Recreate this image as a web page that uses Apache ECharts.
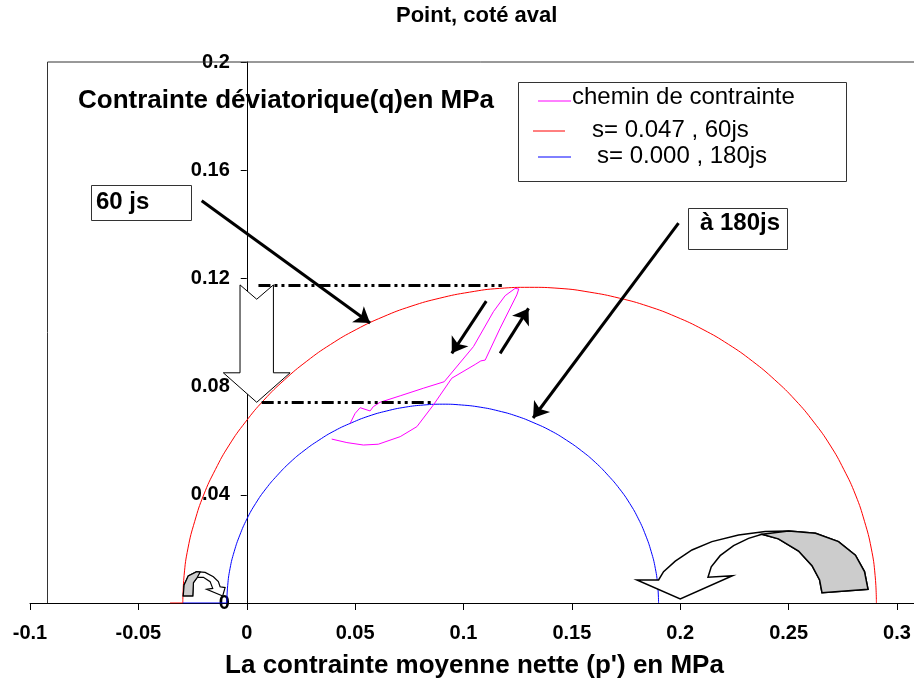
<!DOCTYPE html>
<html>
<head>
<meta charset="utf-8">
<title>Point, coté aval</title>
<script src="https://cdn.jsdelivr.net/npm/echarts@6/dist/echarts.min.js"></script>
<style>
  html, body { margin: 0; padding: 0; background: #fff; }
  #chart { width: 914px; height: 683px; }
</style>
</head>
<body>
<div id="chart"></div>
<script>
// chemin de contrainte (p', q) en MPa
const stressPath = [
  [0.0392, 0.0606], [0.0462, 0.0593], [0.0538, 0.0584], [0.0607, 0.0587],
  [0.0708, 0.0615], [0.0785, 0.0652], [0.0861, 0.0732], [0.0946, 0.0831],
  [0.1054, 0.0882], [0.1080, 0.0895], [0.1100, 0.0898], [0.1169, 0.1016],
  [0.1246, 0.1139], [0.1255, 0.1161], [0.1246, 0.1166], [0.1238, 0.1163],
  [0.1192, 0.1136], [0.1138, 0.1077], [0.1046, 0.0948], [0.0911, 0.0818],
  [0.0815, 0.0794], [0.0708, 0.0766], [0.0615, 0.0742], [0.0584, 0.0726],
  [0.0569, 0.0710], [0.0523, 0.0722], [0.0500, 0.0701], [0.0477, 0.0664]
];

// s= 0.047 , 60js
const redCircle = [
  [0.2905, 0], [0.2899, 0.0102], [0.2881, 0.0203], [0.2850, 0.0302],
  [0.2809, 0.0399], [0.2755, 0.0493], [0.2691, 0.0584], [0.2616, 0.0669],
  [0.2531, 0.0750], [0.2436, 0.0825], [0.2333, 0.0894], [0.2223, 0.0956],
  [0.2105, 0.1011], [0.1981, 0.1058], [0.1852, 0.1097], [0.1719, 0.1127],
  [0.1583, 0.1149], [0.1445, 0.1163], [0.1305, 0.1167], [0.1165, 0.1163],
  [0.1027, 0.1149], [0.0891, 0.1127], [0.0758, 0.1097], [0.0629, 0.1058],
  [0.0505, 0.1011], [0.0387, 0.0956], [0.0277, 0.0894], [0.0174, 0.0825],
  [0.0079, 0.0750], [-0.0006, 0.0669], [-0.0081, 0.0584], [-0.0145, 0.0493],
  [-0.0199, 0.0399], [-0.0240, 0.0302], [-0.0271, 0.0203], [-0.0289, 0.0102],
  [-0.0295, 0]
];
const redTail = [[-0.0295, 0], [-0.0354, 0]];

// s= 0.000 , 180js
const blueCircle = [
  [0.1900, 0], [0.1896, 0.0064], [0.1885, 0.0128], [0.1866, 0.0190],
  [0.1840, 0.0251], [0.1807, 0.0311], [0.1767, 0.0368], [0.1720, 0.0422],
  [0.1667, 0.0472], [0.1608, 0.0520], [0.1544, 0.0563], [0.1475, 0.0602],
  [0.1402, 0.0637], [0.1325, 0.0666], [0.1245, 0.0691], [0.1162, 0.0710],
  [0.1077, 0.0724], [0.0991, 0.0732], [0.0904, 0.0735], [0.0817, 0.0732],
  [0.0731, 0.0724], [0.0646, 0.0710], [0.0563, 0.0691], [0.0483, 0.0666],
  [0.0406, 0.0637], [0.0333, 0.0602], [0.0264, 0.0563], [0.0200, 0.0520],
  [0.0141, 0.0472], [0.0088, 0.0422], [0.0041, 0.0368], [0.0001, 0.0311],
  [-0.0032, 0.0251], [-0.0058, 0.0190], [-0.0077, 0.0128], [-0.0088, 0.0064],
  [-0.0092, 0]
];
const blueTail = [[-0.0092, 0], [-0.0295, 0]];

// annotations, en coordonnées (p', q)
const levelLines = [
  [[0.0054, 0.1176], [0.1177, 0.1176]],
  [[0.0069, 0.0742], [0.0862, 0.0742]]
];
const arrows = [
  [[-0.0208, 0.1487], [0.0569, 0.1035]],
  [[0.1992, 0.1404], [0.1321, 0.0684]],
  [[0.1105, 0.1116], [0.0946, 0.0923]],
  [[0.1169, 0.0923], [0.1300, 0.1089]]
];
const downArrow = [
  [-0.0031, 0.1176], [0.0046, 0.1123], [0.0123, 0.1176], [0.0123, 0.0851],
  [0.0200, 0.0851], [0.0046, 0.0742], [-0.0108, 0.0851], [-0.0031, 0.0851]
];
const bigTurn = [
  [0.2866, 0.0051], [0.2850, 0.0116], [0.2808, 0.0177], [0.2730, 0.0227],
  [0.2624, 0.0258], [0.2500, 0.0266], [0.2392, 0.0264], [0.2269, 0.0251],
  [0.2146, 0.0227], [0.2054, 0.0196], [0.1977, 0.0155], [0.1923, 0.0116],
  [0.1900, 0.0085], [0.1800, 0.0085], [0.2000, 0.0015], [0.2241, 0.0101],
  [0.2128, 0.0095], [0.2143, 0.0134], [0.2184, 0.0175], [0.2246, 0.0212],
  [0.2315, 0.0239], [0.2377, 0.0254], [0.2453, 0.0237], [0.2546, 0.0192],
  [0.2608, 0.0138], [0.2643, 0.0085], [0.2654, 0.0038]
];
const bigTurnBack = [
  [0.2377, 0.0254], [0.2500, 0.0266], [0.2624, 0.0258], [0.2730, 0.0227],
  [0.2808, 0.0177], [0.2850, 0.0116], [0.2866, 0.0051], [0.2654, 0.0038],
  [0.2643, 0.0085], [0.2608, 0.0138], [0.2546, 0.0192], [0.2453, 0.0237]
];
const smallTurn = [
  [-0.0293, 0.0026], [-0.0289, 0.0067], [-0.0270, 0.0100], [-0.0231, 0.0116],
  [-0.0192, 0.0113], [-0.0154, 0.0097], [-0.0131, 0.0079], [-0.0123, 0.0060],
  [-0.0100, 0.0057], [-0.0111, 0.0026], [-0.0185, 0.0051], [-0.0157, 0.0054],
  [-0.0169, 0.0079], [-0.0200, 0.0095], [-0.0228, 0.0095], [-0.0246, 0.0075],
  [-0.0249, 0.0026]
];
const smallTurnBack = [
  [-0.0293, 0.0026], [-0.0289, 0.0067], [-0.0270, 0.0100], [-0.0231, 0.0116],
  [-0.0215, 0.0114], [-0.0228, 0.0095], [-0.0246, 0.0075], [-0.0249, 0.0026]
];

const FONT = '"Liberation Sans", Arial, sans-serif';

const chart = echarts.init(document.getElementById('chart'));

const GRID_LEFT = 30;
const GRID_RIGHT = 17;
const PLOT_W = 914 - GRID_LEFT - GRID_RIGHT;
// the q axis sits at p' = 0, i.e. a quarter of the way along (-0.1 .. 0.3)
const Y_AXIS_SHIFT = PLOT_W * (0 - (-0.1)) / (0.3 - (-0.1));

const option = {
  animation: false,
  backgroundColor: '#fff',
  title: {
    text: 'Point, coté aval',
    left: 396,
    top: 5,
    padding: 0,
    textStyle: { fontFamily: FONT, fontSize: 22, fontWeight: 'bold', color: '#000' }
  },
  grid: { left: GRID_LEFT, right: GRID_RIGHT, top: 62, bottom: 80, outerBoundsMode: 'none' },
  xAxis: {
    type: 'value',
    min: -0.1,
    max: 0.3,
    interval: 0.05,
    name: "La contrainte moyenne nette (p') en MPa",
    nameLocation: 'middle',
    nameGap: 50,
    nameTextStyle: { fontFamily: FONT, fontSize: 26, fontWeight: 'bold', color: '#000', padding: [0, 0, 0, 22] },
    axisLine: { onZero: false, lineStyle: { color: '#000', width: 1 } },
    axisTick: { length: 7, lineStyle: { color: '#000' } },
    axisLabel: { margin: 20, fontFamily: FONT, fontSize: 20, fontWeight: 'bold', color: '#000' },
    splitLine: { show: false }
  },
  yAxis: {
    type: 'value',
    min: 0,
    max: 0.2,
    interval: 0.04,
    position: 'left',
    offset: -Y_AXIS_SHIFT,
    axisLine: { show: true, onZero: false, lineStyle: { color: '#000', width: 1 } },
    axisTick: { show: true, length: 6, lineStyle: { color: '#000' } },
    axisLabel: { margin: 17, fontFamily: FONT, fontSize: 20, fontWeight: 'bold', color: '#000' },
    splitLine: { show: false }
  },
  series: [
    {
      name: 's= 0.047 , 60js', type: 'line', data: redCircle, smooth: true,
      showSymbol: false, silent: true, lineStyle: { color: '#ff0000', width: 1 }
    },
    {
      name: 'red tail', type: 'line', data: redTail, showSymbol: false, silent: true,
      lineStyle: { color: '#ff0000', width: 1 }
    },
    {
      name: 's= 0.000 , 180js', type: 'line', data: blueCircle, smooth: true,
      showSymbol: false, silent: true, lineStyle: { color: '#0000ff', width: 1 }
    },
    {
      name: 'blue tail', type: 'line', data: blueTail, showSymbol: false, silent: true,
      lineStyle: { color: '#0000ff', width: 1 }
    },
    {
      name: 'chemin de contrainte', type: 'line', data: stressPath,
      showSymbol: false, silent: true, lineStyle: { color: '#ff00ff', width: 1 }
    },
    {
      name: 'niveaux', type: 'line', data: [], silent: true,
      markLine: {
        silent: true,
        symbol: ['none', 'none'],
        label: { show: false },
        lineStyle: { color: '#000', width: 3, type: [12, 4, 3, 4, 3, 4] },
        data: levelLines.map(l => [{ coord: l[0] }, { coord: l[1] }])
      }
    },
    {
      name: 'fleches', type: 'line', data: [], silent: true,
      markLine: {
        silent: true,
        symbol: ['none', 'arrow'],
        symbolSize: 15,
        label: { show: false },
        lineStyle: { color: '#000', width: 3, type: 'solid' },
        itemStyle: { color: '#000' },
        data: arrows.map(a => [{ coord: a[0] }, { coord: a[1] }])
      }
    }
  ]
};

chart.setOption(option);

function toPx(points) {
  return points.map(p => chart.convertToPixel({ gridIndex: 0 }, p));
}

const boxStyle = { fill: '#fff', stroke: '#333', lineWidth: 1 };

chart.setOption({
  graphic: [
    // cadre
    { type: 'line', z: 50, shape: { x1: 47.5, y1: 62, x2: 914, y2: 62 }, style: { stroke: '#333', lineWidth: 1 } },
    { type: 'line', z: 50, shape: { x1: 47.5, y1: 62, x2: 47.5, y2: 603 }, style: { stroke: '#333', lineWidth: 1 } },
    { type: 'line', z: 50, shape: { x1: 896, y1: 603.5, x2: 914, y2: 603.5 }, style: { stroke: '#000', lineWidth: 1 } },

    // nom de l'axe vertical
    {
      type: 'text', z: 60, left: 78, top: 88,
      style: { text: 'Contrainte déviatorique(q)en MPa', font: 'bold 26px ' + FONT, fill: '#000' }
    },

    // légende
    { type: 'rect', z: 60, shape: { x: 518.5, y: 82.5, width: 328, height: 99 }, style: boxStyle },
    { type: 'line', z: 61, shape: { x1: 538, y1: 101, x2: 571, y2: 101 }, style: { stroke: '#ff00ff', lineWidth: 1 } },
    { type: 'line', z: 61, shape: { x1: 533, y1: 131, x2: 565, y2: 131 }, style: { stroke: '#ff0000', lineWidth: 1 } },
    { type: 'line', z: 61, shape: { x1: 538, y1: 157, x2: 571, y2: 157 }, style: { stroke: '#0000ff', lineWidth: 1 } },
    { type: 'text', z: 61, left: 572, top: 85, style: { text: 'chemin de contrainte', font: '24px ' + FONT, fill: '#000' } },
    { type: 'text', z: 61, left: 592, top: 118, style: { text: 's= 0.047 , 60js', font: '24px ' + FONT, fill: '#000' } },
    { type: 'text', z: 61, left: 597, top: 144, style: { text: 's= 0.000 , 180js', font: '24px ' + FONT, fill: '#000' } },

    // étiquettes encadrées
    { type: 'rect', z: 60, shape: { x: 91.5, y: 185.5, width: 100, height: 35 }, style: boxStyle },
    { type: 'text', z: 61, left: 96, top: 190, style: { text: '60 js', font: 'bold 24px ' + FONT, fill: '#000' } },
    { type: 'rect', z: 60, shape: { x: 688.5, y: 208.5, width: 99, height: 41 }, style: boxStyle },
    { type: 'text', z: 61, left: 700, top: 211, style: { text: 'à 180js', font: 'bold 24px ' + FONT, fill: '#000' } },

    // flèche creuse et flèches courbes
    { type: 'polygon', z: 70, shape: { points: toPx(downArrow) }, style: { fill: '#fff', stroke: '#000', lineWidth: 1 } },
    { type: 'polygon', z: 70, shape: { points: toPx(bigTurn) }, style: { fill: '#fff', stroke: '#000', lineWidth: 1.5 } },
    { type: 'polygon', z: 71, shape: { points: toPx(bigTurnBack) }, style: { fill: '#cccccc', stroke: '#000', lineWidth: 1.5 } },
    { type: 'polygon', z: 70, shape: { points: toPx(smallTurn) }, style: { fill: '#fff', stroke: '#000', lineWidth: 1.2 } },
    { type: 'polygon', z: 71, shape: { points: toPx(smallTurnBack) }, style: { fill: '#cccccc', stroke: '#000', lineWidth: 1.2 } }
  ]
});
</script>
</body>
</html>
